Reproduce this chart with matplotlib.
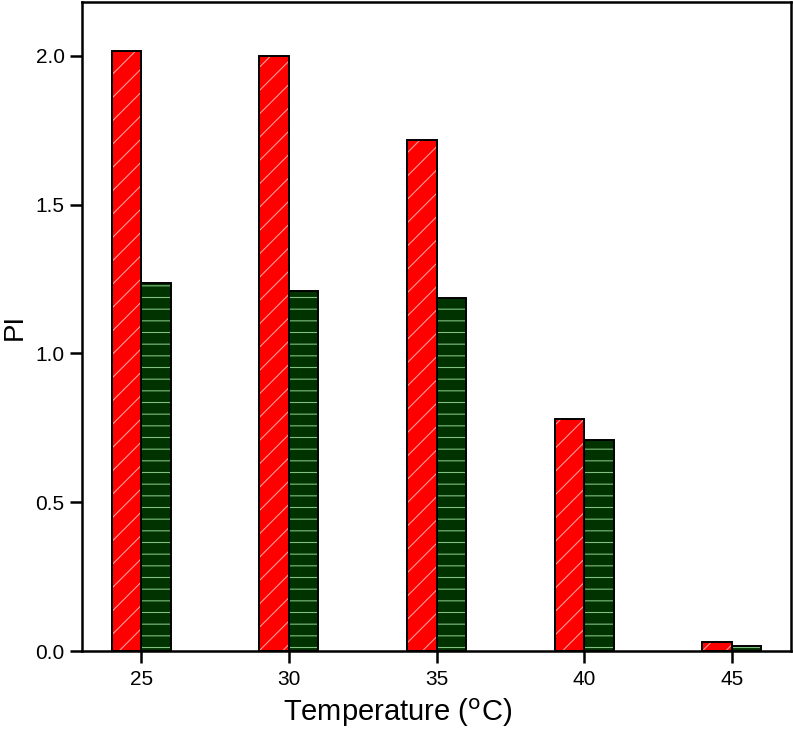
import numpy as np
import matplotlib
matplotlib.use("Agg")
import matplotlib.pyplot as plt

temps = [25, 30, 35, 40, 45]
pi_red = [2.015, 2.0, 1.716, 0.781, 0.032]
pi_green = [1.237, 1.21, 1.186, 0.709, 0.018]

# render at 70 dpi so the hatch spacing comes out ~12 px like the original;
# S converts "100 dpi points" to real points
DPI = 70
S = 100 / DPI

plt.rcParams['font.family'] = ['Liberation Sans', 'DejaVu Sans']
plt.rcParams['hatch.linewidth'] = 0.8 * S

fig = plt.figure(figsize=(793 / DPI, 731 / DPI), dpi=DPI)
ax = fig.add_axes([0.1034, 0.1094, 0.8941, 0.8876])

x = np.array(temps, dtype=float)
w = 1.0

# hatched fill first, then black outline on top
ax.bar(x - w / 2, pi_red, width=w, color="#ff0000", edgecolor="#ff9a9a",
       hatch="/", linewidth=0)
ax.bar(x + w / 2, pi_green, width=w, color="#003300", edgecolor="#80c080",
       hatch="-", linewidth=0)
ax.bar(x - w / 2, pi_red, width=w, fill=False, edgecolor="black", linewidth=1.4 * S)
ax.bar(x + w / 2, pi_green, width=w, fill=False, edgecolor="black", linewidth=1.4 * S)

ax.set_xlim(23, 47)
ax.set_ylim(0, 2.18)
ax.set_xticks(temps)
ax.set_yticks([0.0, 0.5, 1.0, 1.5, 2.0])
ax.set_yticklabels(["0.0", "0.5", "1.0", "1.5", "2.0"])
ax.tick_params(direction="out", length=8.5 * S, width=1.8 * S,
               labelsize=15 * S)
ax.tick_params(axis="x", pad=5 * S)
ax.tick_params(axis="y", pad=4 * S)
for s in ax.spines.values():
    s.set_linewidth(1.8 * S)

ax.set_xlabel(r"Temperature ($^\mathrm{o}$C)", fontsize=21 * S)
ax.xaxis.set_label_coords(0.445, -0.071)
ax.set_ylabel("PI", fontsize=20 * S)
ax.yaxis.set_label_coords(-0.077, 0.5)

fig.savefig("out.png", dpi=DPI)
